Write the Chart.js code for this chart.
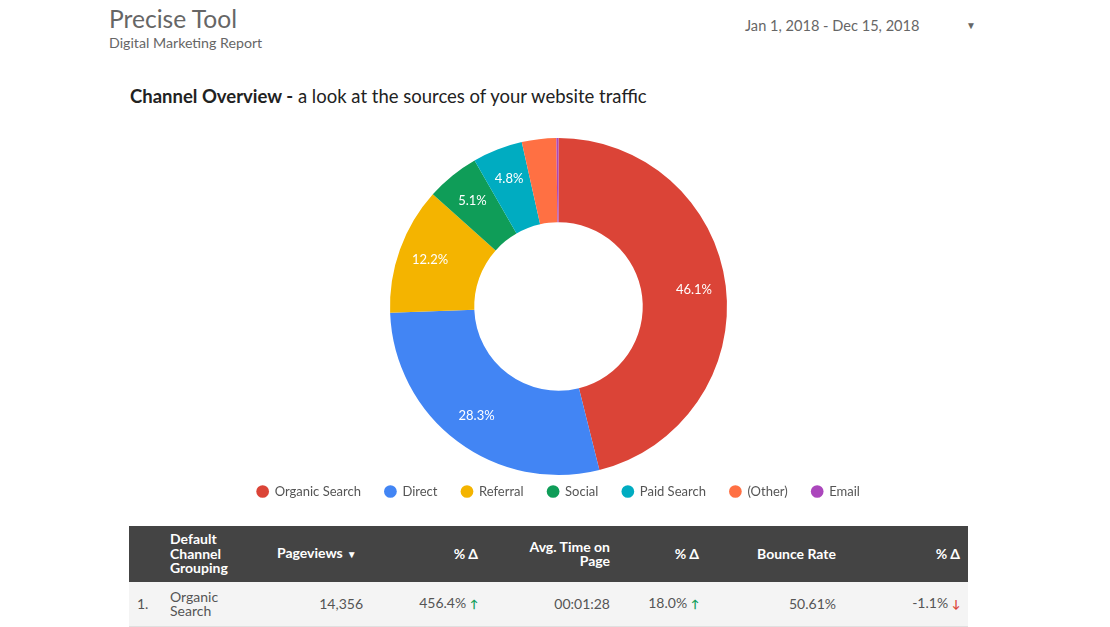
<!DOCTYPE html>
<html>
<head>
<meta charset="utf-8">
<script src="https://cdn.jsdelivr.net/npm/chart.js@4"></script>
<style>
  html, body { margin: 0; padding: 0; background: #fff; }
  body { width: 1110px; height: 627px; position: relative; overflow: hidden; font-family: Lato, "Open Sans", sans-serif; }
  .brand { position: absolute; left: 109px; top: 4px; font-size: 24.6px; color: #666; }
  .sub { position: absolute; left: 109px; top: 34px; font-size: 14.2px; color: #666; }
  .dates { position: absolute; left: 745px; top: 17px; font-size: 14.6px; color: #666; }
  .caret { position: absolute; left: 966px; top: 19px; font-size: 10px; color: #666; }
  .title { position: absolute; left: 130px; top: 85px; font-size: 18.5px; color: #222; }
  .title b { font-weight: 700; }
  #wrap { position: absolute; left: 200px; top: 128px; width: 717px; height: 380px; }
  table { position: absolute; left: 129px; top: 526px; width: 839px; border-collapse: collapse; font-size: 14px; table-layout: fixed; }
  thead tr { background: #444; color: #fff; height: 56px; }
  th { font-weight: 700; line-height: 14.5px; padding: 0 8px; }
  th.pv { padding-left: 15px; }
  th.pv small { font-size: 10px; padding-left: 4px; }
  tbody tr { background: #f4f4f4; color: #555; height: 44px; border-bottom: 1px solid #e0e0e0; }
  td { line-height: 14px; padding: 0 8px; }
  .l { text-align: left; }
  .r { text-align: right; }
  .up { color: #0f9d58; font-size: 11px; font-weight: 700; }
  .dn { color: #db4437; font-size: 11px; font-weight: 700; }
</style>
</head>
<body>
<div class="brand">Precise Tool</div>
<div class="sub">Digital Marketing Report</div>
<div class="dates">Jan 1, 2018 - Dec 15, 2018</div>
<div class="caret">&#9660;</div>
<div class="title"><b>Channel Overview -</b> a look at the sources of your website traffic</div>
<div id="wrap"><canvas id="graficoCanales"></canvas></div>
<table id="tabla">
  <colgroup>
    <col style="width:33px"><col style="width:100px"><col style="width:109px"><col style="width:115px">
    <col style="width:132px"><col style="width:89px"><col style="width:137px"><col style="width:124px">
  </colgroup>
  <thead><tr id="cabecera"></tr></thead>
  <tbody><tr id="fila"></tr></tbody>
</table>
<script>
// datos del donut
const canales = ["Organic Search", "Direct", "Referral", "Social", "Paid Search", "(Other)", "Email"];
const porcentajes = [46.1, 28.3, 12.2, 5.1, 4.8, 3.3, 0.2];
const colores = ["#db4437", "#4285f4", "#f4b400", "#0f9d58", "#00acc1", "#ff7043", "#ab47bc"];

// datos de la tabla
const columnas = ["", "Default<br>Channel<br>Grouping", "Pageviews<small>&#9660;</small>", "% &Delta;", "Avg. Time on<br>Page", "% &Delta;", "Bounce Rate", "% &Delta;"];
const alineacion = ["l", "l", "l pv", "r", "r", "r", "r", "r"];
const filaValores = ["1.", "Organic<br>Search", "14,356", "456.4%", "00:01:28", "18.0%", "50.61%", "-1.1%"];
const filaFlechas = ["", "", "", "up", "", "up", "", "dn"];

document.getElementById("cabecera").innerHTML = columnas
  .map((c, i) => `<th class="${alineacion[i]}">${c}</th>`).join("");
document.getElementById("fila").innerHTML = filaValores.map((v, i) => {
  let flecha = "";
  if (filaFlechas[i] === "up") flecha = ' <span class="up">&#8593;</span>';
  if (filaFlechas[i] === "dn") flecha = ' <span class="dn">&#8595;</span>';
  const al = i < 2 ? "l" : "r";
  return `<td class="${al}">${v}${flecha}</td>`;
}).join("");

// etiquetas de porcentaje dentro de cada porcion
const etiquetas = {
  id: "etiquetas",
  afterDatasetsDraw(chart) {
    const ctx = chart.ctx;
    const meta = chart.getDatasetMeta(0);
    ctx.save();
    ctx.fillStyle = "#fff";
    ctx.font = "13px Lato";
    ctx.textAlign = "center";
    ctx.textBaseline = "middle";
    meta.data.forEach((arc, i) => {
      const v = porcentajes[i];
      if (v < 4) return;
      const p = arc.getProps(["x", "y", "startAngle", "endAngle", "innerRadius", "outerRadius"], true);
      const a = (p.startAngle + p.endAngle) / 2;
      const r = p.innerRadius + (p.outerRadius - p.innerRadius) * 0.62;
      ctx.fillText(v.toFixed(1) + "%", p.x + Math.cos(a) * r, p.y + Math.sin(a) * r);
    });
    ctx.restore();
  }
};

// la leyenda deja mucho aire arriba: el donut baja hasta cerca de la leyenda
const areaDonut = {
  id: "areaDonut",
  afterLayout(chart) {
    const a = chart.chartArea;
    a.top = 10;
    a.bottom = 347;
    a.height = a.bottom - a.top;
  }
};

new Chart(document.getElementById("graficoCanales"), {
  type: "doughnut",
  data: {
    labels: canales,
    datasets: [{
      data: porcentajes,
      backgroundColor: colores,
      borderWidth: 0
    }]
  },
  options: {
    responsive: true,
    maintainAspectRatio: false,
    animation: false,
    cutout: "50%",
    layout: { padding: { top: 10 } },
    plugins: {
      legend: {
        position: "bottom",
        labels: {
          usePointStyle: true,
          pointStyle: "circle",
          boxWidth: 11,
          boxHeight: 9,
          padding: 24,
          color: "#555",
          font: { family: "Lato", size: 13 }
        }
      },
      tooltip: { enabled: false }
    }
  },
  plugins: [etiquetas, areaDonut]
});
</script>
</body>
</html>
